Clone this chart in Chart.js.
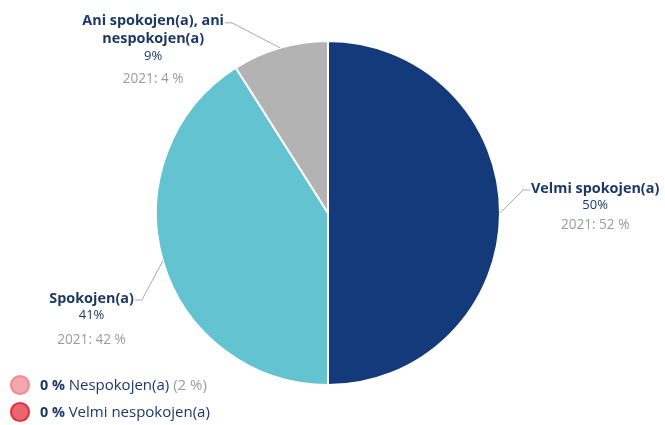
<!DOCTYPE html>
<html>
<head>
<meta charset="utf-8">
<script src="https://cdn.jsdelivr.net/npm/chart.js@4.4.1/dist/chart.umd.min.js"></script>
<style>
  html, body { margin: 0; padding: 0; background: #ffffff; }
  #wrap { width: 665px; height: 425px; position: relative; }
</style>
</head>
<body>
<div id="wrap"><canvas id="c"></canvas></div>
<script>
// ---- data ----
const categories = [
  'Velmi spokojen(a)',
  'Spokojen(a)',
  ['Ani spokojen(a), ani', 'nespokojen(a)'],
  'Nespokojen(a)',
  'Velmi nespokojen(a)'
];
const values2024 = [50, 41, 9, 0, 0];
const values2021 = [52, 42, 4, 2, null];

// ---- styles ----
const sliceColors = ['#143a7c', '#64c3d1', '#b3b3b3', '#f3a8af', '#e9666e'];
const sliceBorders = ['#ffffff', '#ffffff', '#ffffff', '#ef8e98', '#e2363e'];
const NAVY = '#1d3866';
const GREY = '#9b9b9b';
const LINE = '#a9a9a9';
const FONT = '"Open Sans", "Noto Sans", sans-serif';
const TITLE_FONT = '700 14.4px ' + FONT;

// leader-line elbows (offset from slice mid point on the rim) and side of label
const labelLayout = [
  { dx: 23, dy: -23, side: 'right', gap2021: 20 },
  { dx: -21, dy: 39, side: 'left', gap2021: 25 },
  { dx: -48, dy: -25, side: 'left', gap2021: 23 }
];

const labelPlugin = {
  id: 'sliceLabels',
  afterDatasetsDraw(chart) {
    const ctx = chart.ctx;
    const meta = chart.getDatasetMeta(0);
    const ds = chart.data.datasets[0];
    ctx.save();
    meta.data.forEach((arc, i) => {
      if (!ds.data[i]) return;
      const lay = labelLayout[i];
      const p = arc.getProps(['x', 'y', 'startAngle', 'endAngle', 'outerRadius'], true);
      const mid = (p.startAngle + p.endAngle) / 2;
      const ax = p.x + Math.cos(mid) * p.outerRadius;
      const ay = p.y + Math.sin(mid) * p.outerRadius;
      const ex = ax + lay.dx, ey = ay + lay.dy;
      const hx = ex + (lay.side === 'right' ? 7 : -7);
      ctx.strokeStyle = LINE;
      ctx.lineWidth = 1;
      ctx.beginPath();
      ctx.moveTo(ax, ay);
      ctx.lineTo(ex, ey);
      ctx.lineTo(hx, ey);
      ctx.stroke();

      const lines = Array.isArray(chart.data.labels[i]) ? chart.data.labels[i] : [chart.data.labels[i]];
      ctx.font = TITLE_FONT;
      const w0 = ctx.measureText(lines[0]).width;
      const left = lay.side === 'right' ? hx + 1 : hx - 1 - w0;
      const cx = left + w0 / 2;
      let y = ey - 1.5;
      ctx.textBaseline = 'middle';
      ctx.textAlign = 'center';
      ctx.fillStyle = NAVY;
      lines.forEach((ln, k) => {
        ctx.font = TITLE_FONT;
        ctx.fillText(ln, cx, y);
        if (k < lines.length - 1) y += 18;
      });
      y += 17;
      ctx.font = '13px ' + FONT;
      ctx.fillText(ds.data[i] + '%', cx, y);
      y += lay.gap2021;
      ctx.fillStyle = GREY;
      ctx.font = '13.6px ' + FONT;
      ctx.fillText('2021: ' + values2021[i] + ' %', cx, y);
    });

    // legend of zero-valued categories
    let ly = 385;
    ds.data.forEach((v, i) => {
      if (v) return;
      ctx.beginPath();
      ctx.arc(20, ly, 9, 0, Math.PI * 2);
      ctx.fillStyle = sliceColors[i];
      ctx.fill();
      ctx.lineWidth = 2.2;
      ctx.strokeStyle = sliceBorders[i];
      ctx.stroke();
      ctx.textAlign = 'left';
      ctx.textBaseline = 'middle';
      let x = 40;
      ctx.font = '700 14.4px ' + FONT;
      ctx.fillStyle = NAVY;
      const t1 = v + ' % ';
      ctx.fillText(t1, x, ly + 1);
      x += ctx.measureText(t1).width;
      ctx.font = '15px ' + FONT;
      const t2 = categories[i];
      ctx.fillText(t2, x, ly + 1);
      x += ctx.measureText(t2).width;
      if (values2021[i] !== null) {
        ctx.fillStyle = GREY;
        ctx.fillText(' (' + values2021[i] + ' %)', x, ly + 1);
      }
      ly += 27;
    });
    ctx.restore();
  }
};

new Chart(document.getElementById('c'), {
  type: 'pie',
  data: {
    labels: categories,
    datasets: [{
      data: values2024,
      backgroundColor: sliceColors,
      borderColor: '#ffffff',
      borderWidth: 2
    }]
  },
  options: {
    responsive: true,
    maintainAspectRatio: false,
    animation: false,
    layout: { padding: { left: 155, right: 164, top: 40, bottom: 39 } },
    plugins: { legend: { display: false }, tooltip: { enabled: false } }
  },
  plugins: [labelPlugin]
});
</script>
</body>
</html>
